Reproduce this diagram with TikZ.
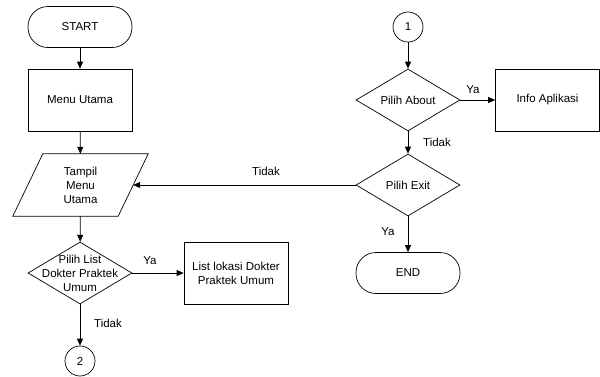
\documentclass[tikz,border=0pt]{standalone}
\usepackage{fontspec}
\setmainfont{Liberation Sans}
\usetikzlibrary{shapes.geometric,arrows.meta}

\begin{document}
\begin{tikzpicture}[x=1pt,y=-1pt,
  every node/.style={font=\fontsize{11.5}{14}\selectfont, align=center},
  term/.style={draw, line width=0.7pt, rectangle, rounded corners=20pt, minimum width=104pt, minimum height=41pt},
  proc/.style={draw, line width=0.7pt, rectangle, minimum width=104pt, minimum height=62pt},
  ioarea/.style={rectangle, minimum width=105pt, minimum height=62pt},
  decide/.style={draw, line width=0.7pt, diamond, minimum width=104pt, minimum height=62pt, inner sep=0pt},
  conn/.style={draw, circle, line width=0.7pt, minimum size=30pt, inner sep=0pt},
  flow/.style={line width=0.7pt, -{Triangle[length=7pt,width=6pt]}},
  lbl/.style={inner sep=0pt}
]
\useasboundingbox (0,0) rectangle (600,376);

% left column
\node[term] (start) at (80,27) {START};
\node[proc] (menu) at (80,100) {Menu Utama};
\node[ioarea] (tampil) at (80.5,185) {Tampil\\Menu\\Utama};
\draw[line width=0.7pt]
  ([xshift=15pt]tampil.north west) -- ([xshift=15pt]tampil.north east) --
  ([xshift=-15pt]tampil.south east) -- ([xshift=-15pt]tampil.south west) -- cycle;
\node[decide] (plist) at (80,273) {};
\node[lbl] (plisttxt) at (plist) {Pilih List\\Dokter Praktek\\Umum};
\node[proc] (list) at (236,273) {List lokasi Dokter\\Praktek Umum};
\node[conn] (c2) at (80,361) {2};

% right column
\node[conn] (c1) at (408,27) {1};
\node[decide] (about) at (408,100) {};
\node[lbl] (abouttxt) at (about) {Pilih About};
\node[proc] (info) at (547.5,100) {Info Aplikasi};
\node[decide] (exit) at (408,185) {};
\node[lbl] (exittxt) at (exit) {Pilih Exit};
\node[term] (end) at (408,273) {END};

% connectors
\draw[flow] (start) -- (menu);
\draw[flow] (menu) -- (tampil);
\draw[flow] (tampil) -- (plist);
\draw[flow] (plist) -- (list);
\draw[flow] (plist) -- (c2);
\draw[flow] (c1) -- (about);
\draw[flow] (about) -- (info);
\draw[flow] (about) -- (exit);
\draw[flow] (exit) -- (tampil.east);
\draw[flow] (exit) -- (end);

% branch labels
\node[lbl] (yaList) at (150,261) {Ya};
\node[lbl] (tidakList) at (108,323) {Tidak};
\node[lbl] (yaAbout) at (473,90) {Ya};
\node[lbl] (tidakAbout) at (437,142) {Tidak};
\node[lbl] (tidakExit) at (266,171) {Tidak};
\node[lbl] (yaExit) at (388,232) {Ya};
\end{tikzpicture}
\end{document}
